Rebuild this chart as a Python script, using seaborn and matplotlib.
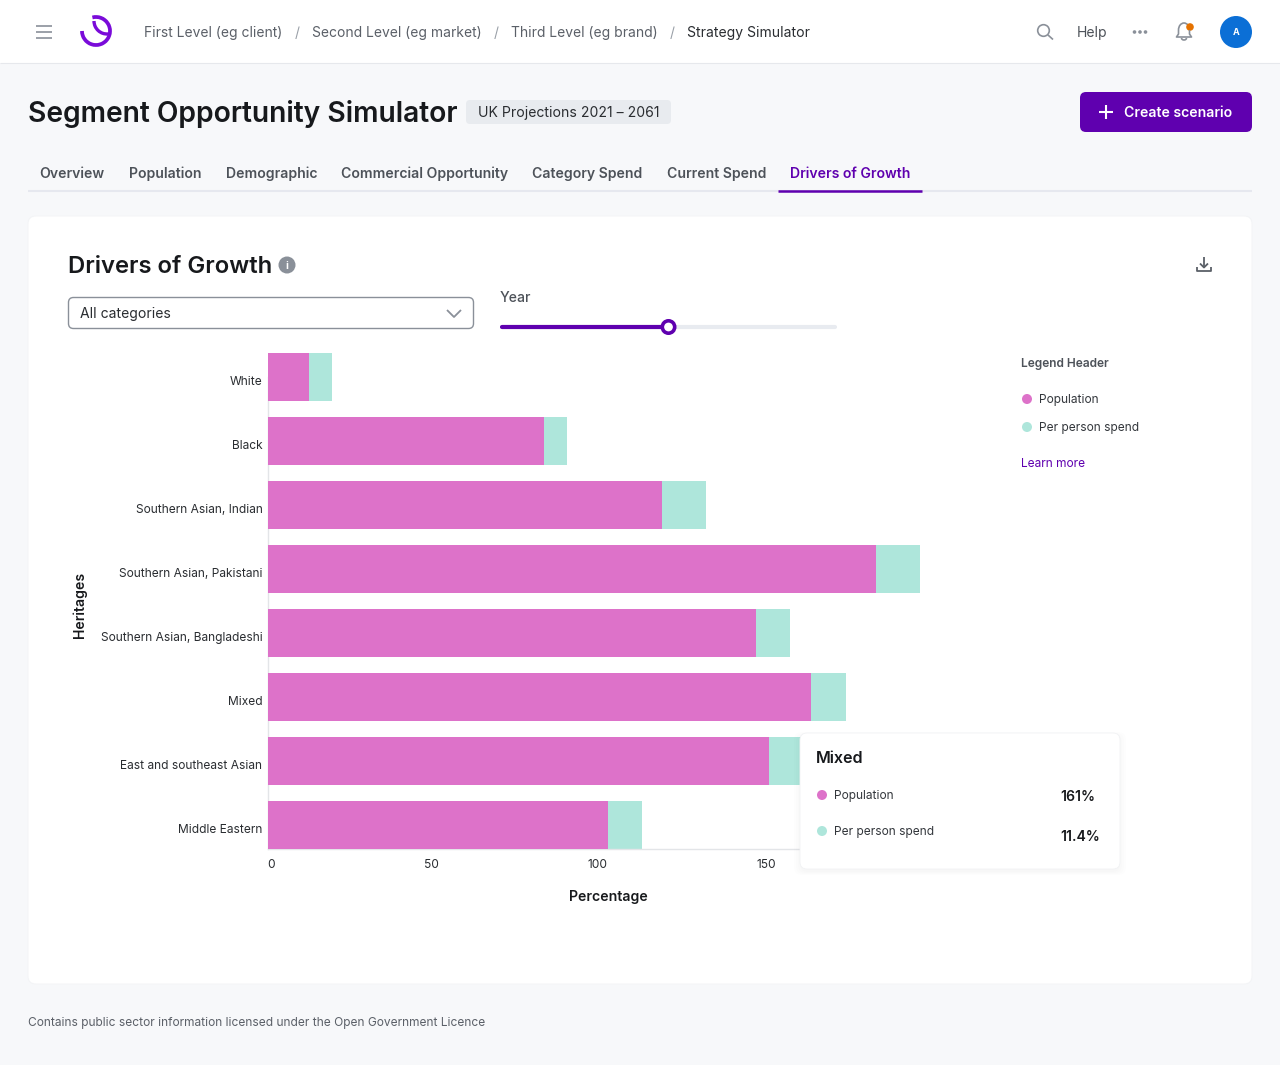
import matplotlib
matplotlib.use("Agg")
import matplotlib.pyplot as plt
from matplotlib.patches import FancyBboxPatch, Circle, Rectangle, Arc
from matplotlib.transforms import ScaledTranslation
import seaborn as sns
import pandas as pd

heritages = ["White", "Black", "Southern Asian, Indian", "Southern Asian, Pakistani",
             "Southern Asian, Bangladeshi", "Mixed", "East and southeast Asian", "Middle Eastern"]
population = [12.1, 81.7, 116.6, 180, 144.6, 161, 148.3, 100.6]
per_person = [6.9, 6.9, 13.2, 13.2, 10.2, 10.2, 10.2, 10.2]
x_ticks = [0, 50, 100, 150, 200]
breadcrumbs = ["First Level (eg client)", "Second Level (eg market)", "Third Level (eg brand)"]
tabs = ["Overview", "Population", "Demographic", "Commercial Opportunity", "Category Spend", "Current Spend", "Drivers of Growth"]

PINK = "#DD72C9"; TEAL = "#AEE6DB"; PURPLE = "#5F00AF"; INK = "#17191C"; GREY = "#4D5259"
W, H = 1280, 1065
sns.set_theme(style="white")
plt.rcParams['font.family'] = ['Inter', 'DejaVu Sans']

fig = plt.figure(figsize=(W/100, H/100), dpi=100, facecolor="#F7F8FA")
ui = fig.add_axes([0, 0, 1, 1], zorder=0)
ui.set_xlim(0, W); ui.set_ylim(H, 0); ui.axis("off")

def T(x, y, s, size=10, color=GREY, weight=400, ha="left", ax=ui, **kw):
    # y is the visual centre of the capitals; text sits on a baseline below it
    return ax.text(x, y + 0.505*size, s, fontsize=size, color=color, fontweight=weight, ha=ha, va="baseline", **kw)
def RR(x, y, w, h, r, ax=ui, **kw):
    p = FancyBboxPatch((x+r, y+r), w-2*r, h-2*r, boxstyle=f"round,pad={r},rounding_size={r}", **kw)
    ax.add_patch(p); return p
def L(xs, ys, color, lw, cap="butt"):
    ui.plot(xs, ys, color=color, lw=lw, solid_capstyle=cap)

# top bar
ui.add_patch(Rectangle((0, 0), W, 63, fc="white", ec="none"))
L([0, W], [63.3, 63.3], "#E6E8EC", 0.8)
for y in (25.5, 31.5, 37.5):
    L([36, 52], [y, y], "#8A9099", 1.2)
ui.add_patch(Arc((96, 31), 28, 28, theta1=-105, theta2=180, lw=2.7, color="#7A0BD9"))
ui.add_patch(Arc((107, 21), 26, 26, theta1=85, theta2=180, lw=2.4, color="#7A0BD9"))

for x, s in zip([144, 312, 511], breadcrumbs):
    T(x, 32, s, 10, "#5B6068")
for x in (297.5, 496, 672.5):
    T(x, 32, "/", 10, "#9AA0A8", ha="center")
T(687, 32, "Strategy Simulator", 10.05, "#2A2D31")
ui.add_patch(Circle((1043.5, 30.5), 5.8, fc="none", ec="#8A9099", lw=1.2))
L([1048, 1053], [35, 39.5], "#8A9099", 1.2)
T(1077, 32, "Help", 10.1, "#4D5259")
for x in (1134.5, 1140, 1145.5):
    ui.add_patch(Circle((x, 32), 1.8, fc="#8A9099", ec="none"))
# bell
ui.add_patch(Arc((1184, 30), 11, 14, theta1=180, theta2=360, color="#8A9099", lw=1.2))
L([1178.5, 1178.5, 1176.5, 1191.5, 1189.5, 1189.5], [30, 34, 37, 37, 34, 30], "#8A9099", 1.2)
ui.add_patch(Arc((1184, 38), 5, 4, theta1=0, theta2=180, color="#8A9099", lw=1.2))
ui.add_patch(Circle((1190, 27), 3.8, fc="#E57200", ec="none"))
ui.add_patch(Circle((1236, 32), 16, fc="#0B6FD6", ec="none"))
T(1236, 32, "A", 6.5, "white", 700, ha="center")

# heading
T(28, 112, "Segment Opportunity Simulator", 20.3, INK, 600)
RR(466, 100, 205, 24, 4, fc="#E8EBEF", ec="none")
T(478, 112, "UK Projections 2021 – 2061", 10.1, "#2A2D31")
RR(1080, 92, 172, 40, 6, fc=PURPLE, ec="none")
L([1099, 1113], [112, 112], "white", 1.5)
L([1106, 1106], [105, 119], "white", 1.5)
T(1124.5, 112, "Create scenario", 10.1, "white", 600)

# tabs
for x, s in zip([39.7, 129, 226, 341, 532.5, 667, 790.5], tabs):
    T(x, 173, s, 10.1, PURPLE if s == tabs[-1] else "#4D5259", 600)
L([28, 1252], [191, 191], "#E6E8EF", 1.5)
L([778, 922], [191, 191], PURPLE, 1.8)

# card
RR(28, 216, 1224, 768, 8, fc="white", ec="#F3F4F6", lw=.7)
T(68, 264.4, "Drivers of Growth", 17.15, INK, 600)
ui.add_patch(Circle((287, 265), 8.5, fc="#8A9099", ec="none"))
T(287, 265, "i", 7.5, "white", 700, ha="center")
# download icon
L([1204, 1204], [257, 267], "#5B6068", 1.3)
L([1200, 1204, 1208], [263.5, 267.5, 263.5], "#5B6068", 1.3)
L([1197, 1197, 1211, 1211], [267, 271, 271, 267], "#5B6068", 1.3)

# select
RR(68.5, 297.5, 405, 31, 5, fc="white", ec="#8A9099", lw=1)
T(80, 313, "All categories", 10.1, "#2A2D31")
L([447, 454, 461], [310, 317, 310], "#8A9099", 1.3)
# slider
T(500, 297, "Year", 10.1, "#4D5259", 500)
L([501.5, 834.5], [327, 327], "#E8EBF0", 3, "round")
L([501.5, 668], [327, 327], PURPLE, 3, "round")
ui.add_patch(Circle((668.5, 327), 6.2, fc="white", ec=PURPLE, lw=2.6, zorder=5))

# chart
x0, x1 = 268, 943
y_top, y_bot = 345, 857
ax = fig.add_axes([x0/W, 1-y_bot/H, (x1-x0)/W, (y_bot-y_top)/H], zorder=1)
ax.patch.set_alpha(0)
PX = 3.379
df = pd.DataFrame({"heritage": heritages, "population": population, "per_person": per_person})
df["total"] = df["population"] + df["per_person"]
sns.barplot(data=df, y="heritage", x="total", color=TEAL, width=0.75, saturation=1, linewidth=0, ax=ax, zorder=2)
sns.barplot(data=df, y="heritage", x="population", color=PINK, width=0.75, saturation=1, linewidth=0, ax=ax, zorder=3)
ax.set_xlim(0, (x1-x0)/PX)
ax.set_ylim(7.5, -0.5)
ax.set_xlabel(""); ax.set_ylabel("")
ax.set_xticks(x_ticks)
ax.set_xticklabels([])
ax.tick_params(length=0, axis="both", labelsize=8.6, labelcolor="#2A2D31", pad=4.0)
sns.despine(ax=ax, top=True, right=True)
ax.spines["left"].set_bounds(0, 7.375); ax.spines["left"].set_color("#E3E5E8")
ax.spines["bottom"].set_color("#E3E5E8")
ax.spines["bottom"].set_bounds(0, (x1-x0)/PX)
ax.spines["bottom"].set_position(("data", 7.375))
ax.spines["left"].set_linewidth(1); ax.spines["bottom"].set_linewidth(1)
shift = ScaledTranslation(0, -3.2/100, fig.dpi_scale_trans)
for lab in ax.get_yticklabels():
    lab.set_transform(lab.get_transform() + shift)
for tick in x_ticks:
    ax.annotate(str(tick), (tick, 7.375), xytext=(1.6 if tick else -0.6, -11.2), textcoords="offset points",
                ha="right" if tick else "left", va="center", fontsize=8.6, color="#2A2D31", annotation_clip=False)
ui.text(84, 605, "Heritages", fontsize=10.1, color=INK, fontweight=600, ha="center", va="baseline",
        rotation=90, rotation_mode="anchor")
T(608, 896, "Percentage", 10.15, INK, 600, ha="center")

# legend
T(1021, 363, "Legend Header", 8.6, "#4D5259", 600)
ui.add_patch(Circle((1027, 399), 5, fc=PINK, ec="none"))
T(1039, 399, "Population", 8.6, "#33373C")
ui.add_patch(Circle((1027, 427), 5, fc=TEAL, ec="none"))
T(1039, 427, "Per person spend", 8.6, "#33373C")
T(1021, 463, "Learn more", 8.6, PURPLE)

# tooltip
top = fig.add_axes([0, 0, 1, 1], zorder=5)
top.set_xlim(0, W); top.set_ylim(H, 0); top.axis("off"); top.patch.set_alpha(0)
for i in range(4):
    RR(800-i*2, 733-i+2, 320+i*4, 136+i*2+1, 8, ax=top, fc="black", ec="none", alpha=.008)
RR(800, 733, 320, 136, 7, ax=top, fc="white", ec="#F1F2F4", lw=.6)
T(816, 757.5, "Mixed", 11.6, INK, 600, ax=top)
top.add_patch(Circle((822, 795), 5, fc=PINK, ec="none"))
T(834, 795, "Population", 8.6, "#33373C", ax=top)
T(1060.5, 795.5, "161%", 10.1, INK, 600, ax=top)
top.add_patch(Circle((822, 831), 5, fc=TEAL, ec="none"))
T(834, 831, "Per person spend", 8.6, "#33373C", ax=top)
T(1060.5, 835.5, "11.4%", 10.1, INK, 600, ax=top)

# footer
T(28, 1022, "Contains public sector information licensed under the Open Government Licence", 8.6, "#5B6068")

fig.savefig("out.png", dpi=100, facecolor=fig.get_facecolor())
